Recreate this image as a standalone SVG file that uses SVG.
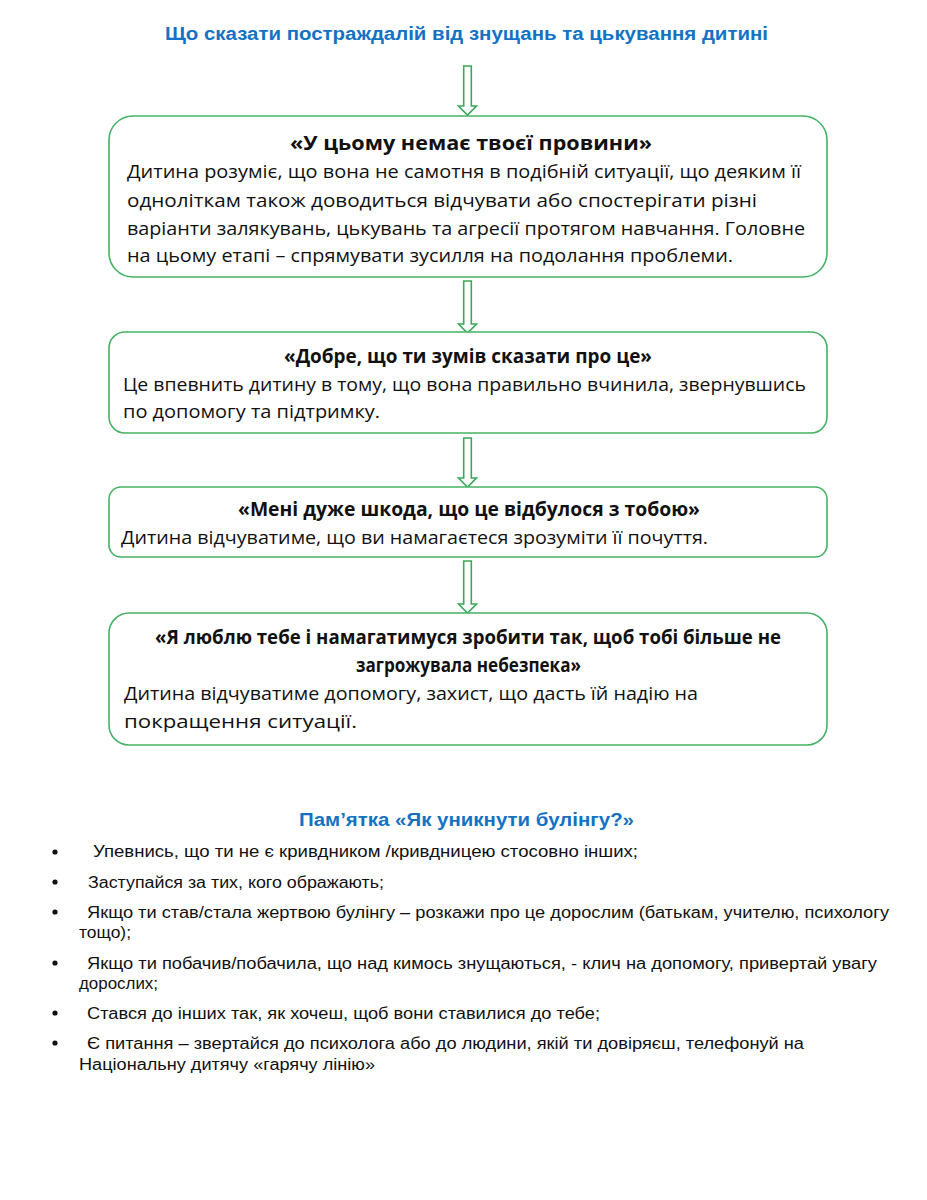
<svg xmlns="http://www.w3.org/2000/svg" width="927" height="1200" viewBox="0 0 927 1200">
<style>
.h{font-family:"Liberation Sans",Arial,sans-serif;font-weight:bold;fill:#1472c4;font-size:18px}
.box{fill:#fff;stroke:#45b265;stroke-width:1.6}
.arr{fill:#fff;stroke:#3aa95a;stroke-width:1.6;stroke-linejoin:miter}
.bt{font-family:"Open Sans","Liberation Sans",sans-serif;font-weight:bold;font-size:19px;fill:#111}
.bd{font-family:"Open Sans","Liberation Sans",sans-serif;font-size:19px;fill:#111}
.li{font-family:"Liberation Sans",Arial,sans-serif;font-size:16px;fill:#111}
.dot{fill:#111}
</style>
<rect width="927" height="1200" fill="#fff"/>
<text class="h" x="466.5" y="39.5" text-anchor="middle" textLength="603" lengthAdjust="spacingAndGlyphs">Що сказати постраждалій від знущань та цькування дитині</text>

<g id="connectors">
<polygon class="arr" points="463.7,66 471.3,66 471.3,106 476.5,106 467.5,115 458.5,106 463.7,106"/>
<polygon class="arr" points="463.7,281 471.3,281 471.3,324 476.5,324 467.5,333 458.5,324 463.7,324"/>
<polygon class="arr" points="463.7,438 471.3,438 471.3,478 476.5,478 467.5,487 458.5,478 463.7,478"/>
<polygon class="arr" points="463.7,561 471.3,561 471.3,604 476.5,604 467.5,613 458.5,604 463.7,604"/>
</g>

<g id="node1">
<rect class="box" x="109" y="116" width="718" height="161" rx="24"/>
<text class="bt" x="471" y="150" text-anchor="middle" textLength="362" lengthAdjust="spacingAndGlyphs">«У цьому немає твоєї провини»</text>
<text class="bd" x="127" y="178" textLength="674" lengthAdjust="spacingAndGlyphs">Дитина розуміє, що вона не самотня в подібній ситуації, що деяким її</text>
<text class="bd" x="127" y="207" textLength="630" lengthAdjust="spacingAndGlyphs">одноліткам також доводиться відчувати або спостерігати різні</text>
<text class="bd" x="127" y="235" textLength="678" lengthAdjust="spacingAndGlyphs">варіанти залякувань, цькувань та агресії протягом навчання. Головне</text>
<text class="bd" x="127" y="262" textLength="606" lengthAdjust="spacingAndGlyphs">на цьому етапі – спрямувати зусилля на подолання проблеми.</text>
</g>

<g id="node2">
<rect class="box" x="109" y="332" width="718" height="101" rx="16"/>
<text class="bt" x="468" y="363" text-anchor="middle" textLength="368" lengthAdjust="spacingAndGlyphs">«Добре, що ти  зумів сказати про це»</text>
<text class="bd" x="123" y="391" textLength="683" lengthAdjust="spacingAndGlyphs">Це впевнить дитину в тому, що вона правильно вчинила, звернувшись</text>
<text class="bd" x="123" y="418" textLength="257" lengthAdjust="spacingAndGlyphs">по допомогу та підтримку.</text>
</g>

<g id="node3">
<rect class="box" x="109" y="487" width="718" height="70" rx="12"/>
<text class="bt" x="469" y="516" text-anchor="middle" textLength="462" lengthAdjust="spacingAndGlyphs">«Мені дуже шкода, що це відбулося з тобою»</text>
<text class="bd" x="121" y="544" textLength="587" lengthAdjust="spacingAndGlyphs">Дитина відчуватиме, що ви намагаєтеся зрозуміти її почуття.</text>
</g>

<g id="node4">
<rect class="box" x="109" y="613" width="718" height="132" rx="20"/>
<text class="bt" x="468" y="644" text-anchor="middle" textLength="626" lengthAdjust="spacingAndGlyphs">«Я люблю тебе і намагатимуся зробити так, щоб тобі більше не</text>
<text class="bt" x="468.5" y="672" text-anchor="middle" textLength="225" lengthAdjust="spacingAndGlyphs">загрожувала небезпека»</text>
<text class="bd" x="124" y="700" textLength="574" lengthAdjust="spacingAndGlyphs">Дитина відчуватиме допомогу, захист, що дасть їй надію на</text>
<text class="bd" x="124" y="728" textLength="233" lengthAdjust="spacingAndGlyphs">покращення ситуації.</text>
</g>

<g id="memo">
<text class="h" x="466.5" y="826" text-anchor="middle" textLength="335" lengthAdjust="spacingAndGlyphs">Пам’ятка «Як уникнути булінгу?»</text>
<circle class="dot" cx="55" cy="852" r="2.6"/>
<text class="li" x="93" y="857" textLength="545" lengthAdjust="spacingAndGlyphs">Упевнись, що ти не є кривдником /кривдницею стосовно інших;</text>
<circle class="dot" cx="55" cy="882" r="2.6"/>
<text class="li" x="88" y="888" textLength="296" lengthAdjust="spacingAndGlyphs">Заступайся за тих, кого ображають;</text>
<circle class="dot" cx="55" cy="912" r="2.6"/>
<text class="li" x="87" y="918" textLength="802" lengthAdjust="spacingAndGlyphs">Якщо ти став/стала жертвою булінгу – розкажи про це дорослим (батькам, учителю, психологу</text>
<text class="li" x="79" y="938" textLength="52" lengthAdjust="spacingAndGlyphs">тощо);</text>
<circle class="dot" cx="55" cy="963" r="2.6"/>
<text class="li" x="87" y="969" textLength="790" lengthAdjust="spacingAndGlyphs">Якщо ти побачив/побачила, що над кимось знущаються, - клич на допомогу, привертай увагу</text>
<text class="li" x="79" y="989" textLength="79" lengthAdjust="spacingAndGlyphs">дорослих;</text>
<circle class="dot" cx="55" cy="1013" r="2.6"/>
<text class="li" x="87" y="1019" textLength="513" lengthAdjust="spacingAndGlyphs">Стався до інших так, як хочеш, щоб вони ставилися до тебе;</text>
<circle class="dot" cx="55" cy="1043" r="2.6"/>
<text class="li" x="87" y="1049" textLength="717" lengthAdjust="spacingAndGlyphs">Є питання – звертайся до психолога або до людини, якій ти довіряєш, телефонуй на</text>
<text class="li" x="79" y="1070" textLength="296" lengthAdjust="spacingAndGlyphs">Національну дитячу «гарячу лінію»</text>
</g>
</svg>
